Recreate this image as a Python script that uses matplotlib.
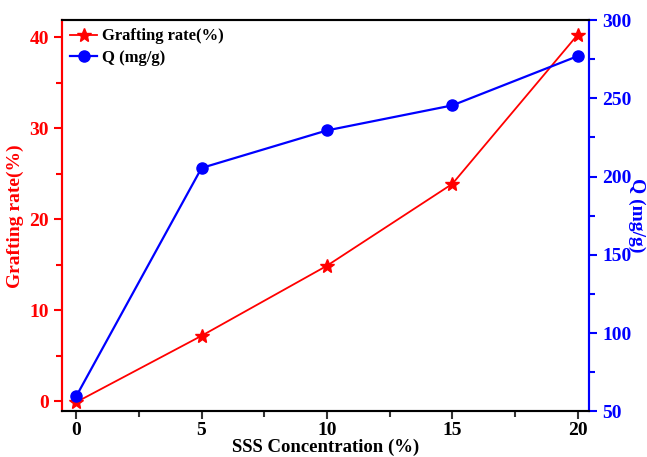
import matplotlib
matplotlib.use("Agg")
import matplotlib.pyplot as plt
from matplotlib.ticker import MultipleLocator

conc = [0, 5, 10, 15, 20]
grafting = [-0.1, 7.2, 14.9, 23.9, 40.3]
q_values = [59.5, 205.5, 229.5, 245.5, 277]

plt.rcParams["font.family"] = "Liberation Serif"
plt.rcParams["font.weight"] = "bold"

fig, ax = plt.subplots(figsize=(6.47, 4.57), dpi=100)
fig.subplots_adjust(left=0.096, right=0.91, top=0.956, bottom=0.1)
ax2 = ax.twinx()

l1, = ax.plot(conc, grafting, color="red", marker="*", markersize=10, lw=1.3,
              label="Grafting rate(%)")
l2, = ax2.plot(conc, q_values, color="blue", marker="o", markersize=8, lw=1.6,
               label="Q (mg/g)")

ax.set_xlim(-0.56, 20.44)
ax.set_ylim(-1.1, 41.9)
ax2.set_ylim(50, 300)

ax.xaxis.set_major_locator(MultipleLocator(5))
ax.xaxis.set_minor_locator(MultipleLocator(2.5))
ax.yaxis.set_major_locator(MultipleLocator(10))
ax.yaxis.set_minor_locator(MultipleLocator(5))
ax2.yaxis.set_major_locator(MultipleLocator(50))
ax2.yaxis.set_minor_locator(MultipleLocator(25))

for a in (ax, ax2):
    for s in a.spines.values():
        s.set_linewidth(1.5)
ax.spines["left"].set_color("red")
ax2.spines["left"].set_color("red")
ax2.spines["right"].set_color("blue")
ax.spines["right"].set_color("blue")
ax.spines["top"].set_color("#333333")
ax.spines["bottom"].set_color("#333333")

ax.tick_params(axis="x", which="both", direction="out", colors="#333333", labelcolor="black",
               labelsize=14, width=1.5, pad=2)
ax.tick_params(axis="x", which="major", length=6)
ax.tick_params(axis="x", which="minor", length=4)
ax.tick_params(axis="y", which="both", direction="out", colors="red", labelsize=14, width=1.5)
ax.tick_params(axis="y", which="major", length=6)
ax.tick_params(axis="y", which="minor", length=4)
ax2.tick_params(axis="y", which="both", direction="out", colors="blue", labelsize=14, width=1.5)
ax2.tick_params(axis="y", which="major", length=6)
ax2.tick_params(axis="y", which="minor", length=4)

ax.set_xlabel("SSS Concentration (%)", fontsize=13.5, fontweight="bold", va="center")
ax.xaxis.set_label_coords(0.5, -0.093)
ax.set_ylabel("Grafting rate(%)", fontsize=14, fontweight="bold", color="red", labelpad=4)
ax2.set_ylabel("Q (mg/g)", fontsize=14, fontweight="bold", color="blue", rotation=270,
               va="center")
ax2.yaxis.set_label_coords(1.091, 0.5)

ax.legend(handles=[l1, l2], loc="upper left", frameon=False, fontsize=12,
          handlelength=1.6, handletextpad=0.3, borderaxespad=0.1, labelspacing=0.35)

fig.savefig("out.png", dpi=100)
